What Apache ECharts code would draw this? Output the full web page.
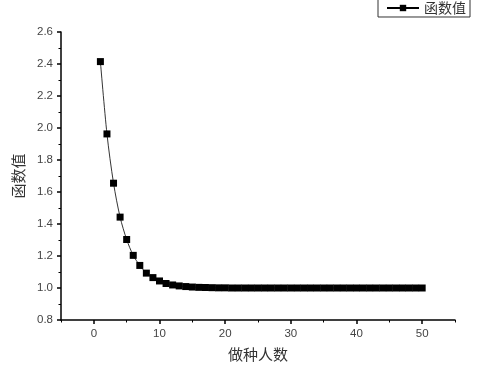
<!DOCTYPE html>
<html><head><meta charset="utf-8">
<script src="https://cdn.jsdelivr.net/npm/echarts@6/dist/echarts.min.js"></script>
<style>html,body{margin:0;padding:0;background:#fff}#c{width:500px;height:367px}</style>
</head><body><div id="c"></div>
<script>
const seriesName = '函数值';
const xName = '做种人数';
const xValues = [1,2,3,4,5,6,7,8,9,10,11,12,13,14,15,16,17,18,19,20,21,22,23,24,25,26,27,28,29,30,31,32,33,34,35,36,37,38,39,40,41,42,43,44,45,46,47,48,49,50];
const yValues = [2.415,1.963,1.655,1.443,1.303,1.204,1.141,1.093,1.065,1.044,1.028,1.019,1.013,1.009,1.006,1.004,1.003,1.002,1.001,1.001,1.0,1.0,1.0,1.0,1.0,1.0,1.0,1.0,1.0,1.0,1.0,1.0,1.0,1.0,1.0,1.0,1.0,1.0,1.0,1.0,1.0,1.0,1.0,1.0,1.0,1.0,1.0,1.0,1.0,1.0];
const xMajorTicks = [0,10,20,30,40,50];
const xMinorTicks = [-5,5,15,25,35,45,55];

const data = xValues.map((x,i)=>[x,yValues[i]]);
const chart = echarts.init(document.getElementById('c'));
const labelStyle = {color:'#444', fontFamily:'Liberation Sans, Arial', fontSize:11.5};
chart.setOption({
  animation:false,
  legend:{
    right:30, top:-2,
    data:[seriesName],
    borderColor:'#333', borderWidth:1, padding:[3,4,2,8],
    itemWidth:32, itemHeight:8, itemGap:2,
    textStyle:{fontFamily:'Noto Sans CJK SC', fontSize:14, color:'#333'}
  },
  grid:{left:61, top:32, right:45, bottom:43, containLabel:false},
  xAxis:[{
    type:'value', min:-5, max:55,
    name:xName, nameLocation:'middle', nameGap:27,
    nameTextStyle:{fontFamily:'Noto Sans CJK SC', fontSize:15, color:'#333'},
    axisLine:{show:true, onZero:false, lineStyle:{color:'#000', width:1.5}},
    axisTick:{show:true, length:4, customValues:xMajorTicks, lineStyle:{color:'#000', width:1.5}},
    axisLabel:{customValues:xMajorTicks, margin:8, ...labelStyle},
    splitLine:{show:false}
  },{
    type:'value', min:-5, max:55, position:'bottom',
    axisLine:{show:false},
    axisTick:{show:true, length:2.5, customValues:xMinorTicks, lineStyle:{color:'#000', width:1}},
    axisLabel:{show:false},
    splitLine:{show:false}
  }],
  yAxis:{
    type:'value', min:0.8, max:2.6, interval:0.2,
    name:seriesName, nameLocation:'middle', nameGap:29, nameRotate:90,
    nameTextStyle:{fontFamily:'Noto Sans CJK SC', fontSize:15, color:'#333'},
    axisLine:{show:true, onZero:false, lineStyle:{color:'#000', width:1.5}},
    axisTick:{show:true, length:4, lineStyle:{color:'#000', width:1.5}},
    minorTick:{show:true, splitNumber:2, length:2.5, lineStyle:{color:'#000', width:1}},
    axisLabel:{margin:8, formatter:v=>v.toFixed(1), ...labelStyle},
    splitLine:{show:false}
  },
  series:[{
    name:seriesName, type:'line', data:data, xAxisIndex:0,
    smooth:0.3,
    symbol:'rect', symbolSize:7,
    itemStyle:{color:'#000'},
    lineStyle:{color:'#000', width:0.8}
  }]
});
</script></body></html>
